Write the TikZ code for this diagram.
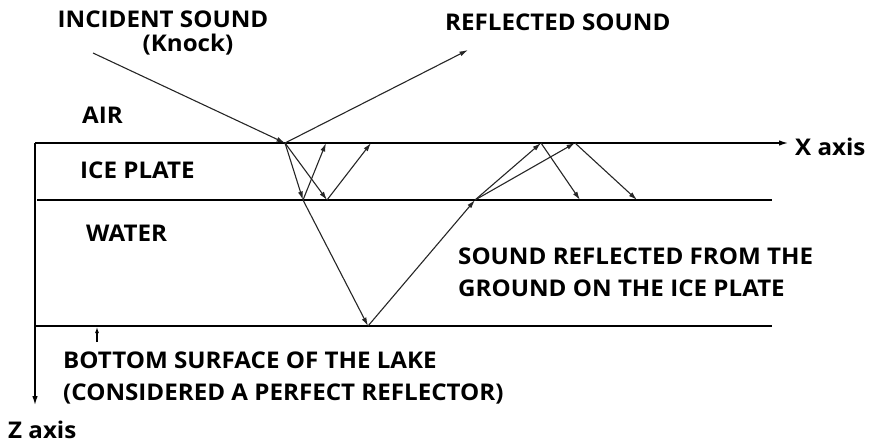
\documentclass[tikz,border=0pt]{standalone}
\usepackage{fontspec}
\setmainfont{Open Sans}[FakeStretch=1.05]
\usepackage{tikz}
\usetikzlibrary{arrows.meta}

\tikzset{
  ray/.style={-{Latex[length=8.5pt,width=5pt]},line width=1.1pt,black!85},
  layer/.style={line width=1.3pt,black},
  lbl/.style={font=\fontsize{23}{32}\selectfont\bfseries,inner sep=0pt,anchor=west,align=left}
}

\begin{document}
\begin{tikzpicture}[x=1pt,y=-1pt]
\useasboundingbox (0,0) rectangle (870,444);

% Axes and layers
\coordinate (O) at (35,143);
\coordinate (xend) at (788,143);
\coordinate (zend) at (35,405);
\draw[layer,-{Latex[length=9pt,width=5.5pt]}] (O) -- (xend);
\draw[layer,-{Latex[length=9pt,width=5.5pt]}] (O) -- (zend);
\coordinate (ice0) at (37,200);
\coordinate (ice1) at (772,200);
\draw[layer] (ice0) -- (ice1);
\coordinate (bot0) at (35,326);
\coordinate (bot1) at (772,326);
\draw[layer] (bot0) -- (bot1);

% Reflection points
\coordinate (K) at (93,53);
\coordinate (P) at (285,143);
\coordinate (R) at (468,50);
\coordinate (A) at (303,200);
\coordinate (B) at (327,200);
\coordinate (C) at (326,143);
\coordinate (D) at (371,143);
\coordinate (G) at (368,326);
\coordinate (E) at (475,200);
\coordinate (F) at (541,143);
\coordinate (H) at (575,143);
\coordinate (I) at (580,200);
\coordinate (J) at (637,200);

% Rays
\draw[ray] (K) -- (P);
\draw[ray] (P) -- (R);
\draw[ray] (P) -- (A);
\draw[ray] (P) -- (B);
\draw[ray] (A) -- (C);
\draw[ray] (B) -- (D);
\draw[ray] (A) -- (G);
\draw[ray] (G) -- (E);
\draw[ray] (E) -- (F);
\draw[ray] (E) -- (H);
\draw[ray] (F) -- (I);
\draw[ray] (H) -- (J);

% Bottom marker
\coordinate (m0) at (97,342);
\coordinate (m1) at (97,327);
\draw[line width=1.1pt,-{Latex[length=6pt,width=4pt]}] (m0) -- (m1);

% Labels
\node[lbl,anchor=center] (inc) at (163,19) {INCIDENT SOUND};
\node[lbl,anchor=center] (knock) at (188,45) {(Knock)};
\node[lbl] (refl) at (445,22) {REFLECTED SOUND};
\node[lbl] (air) at (82,115) {AIR};
\node[lbl] (ice) at (80,170) {ICE PLATE};
\node[lbl] (water) at (86,233) {WATER};
\node[lbl] (ground) at (458,272.5) {SOUND REFLECTED FROM THE\\GROUND ON THE ICE PLATE};
\node[lbl] (lake) at (63,377.5) {BOTTOM SURFACE OF THE LAKE\\(CONSIDERED A PERFECT REFLECTOR)};
\node[lbl] (xlab) at (795,147) {X axis};
\node[lbl] (zlab) at (8,430) {Z axis};
\end{tikzpicture}
\end{document}
